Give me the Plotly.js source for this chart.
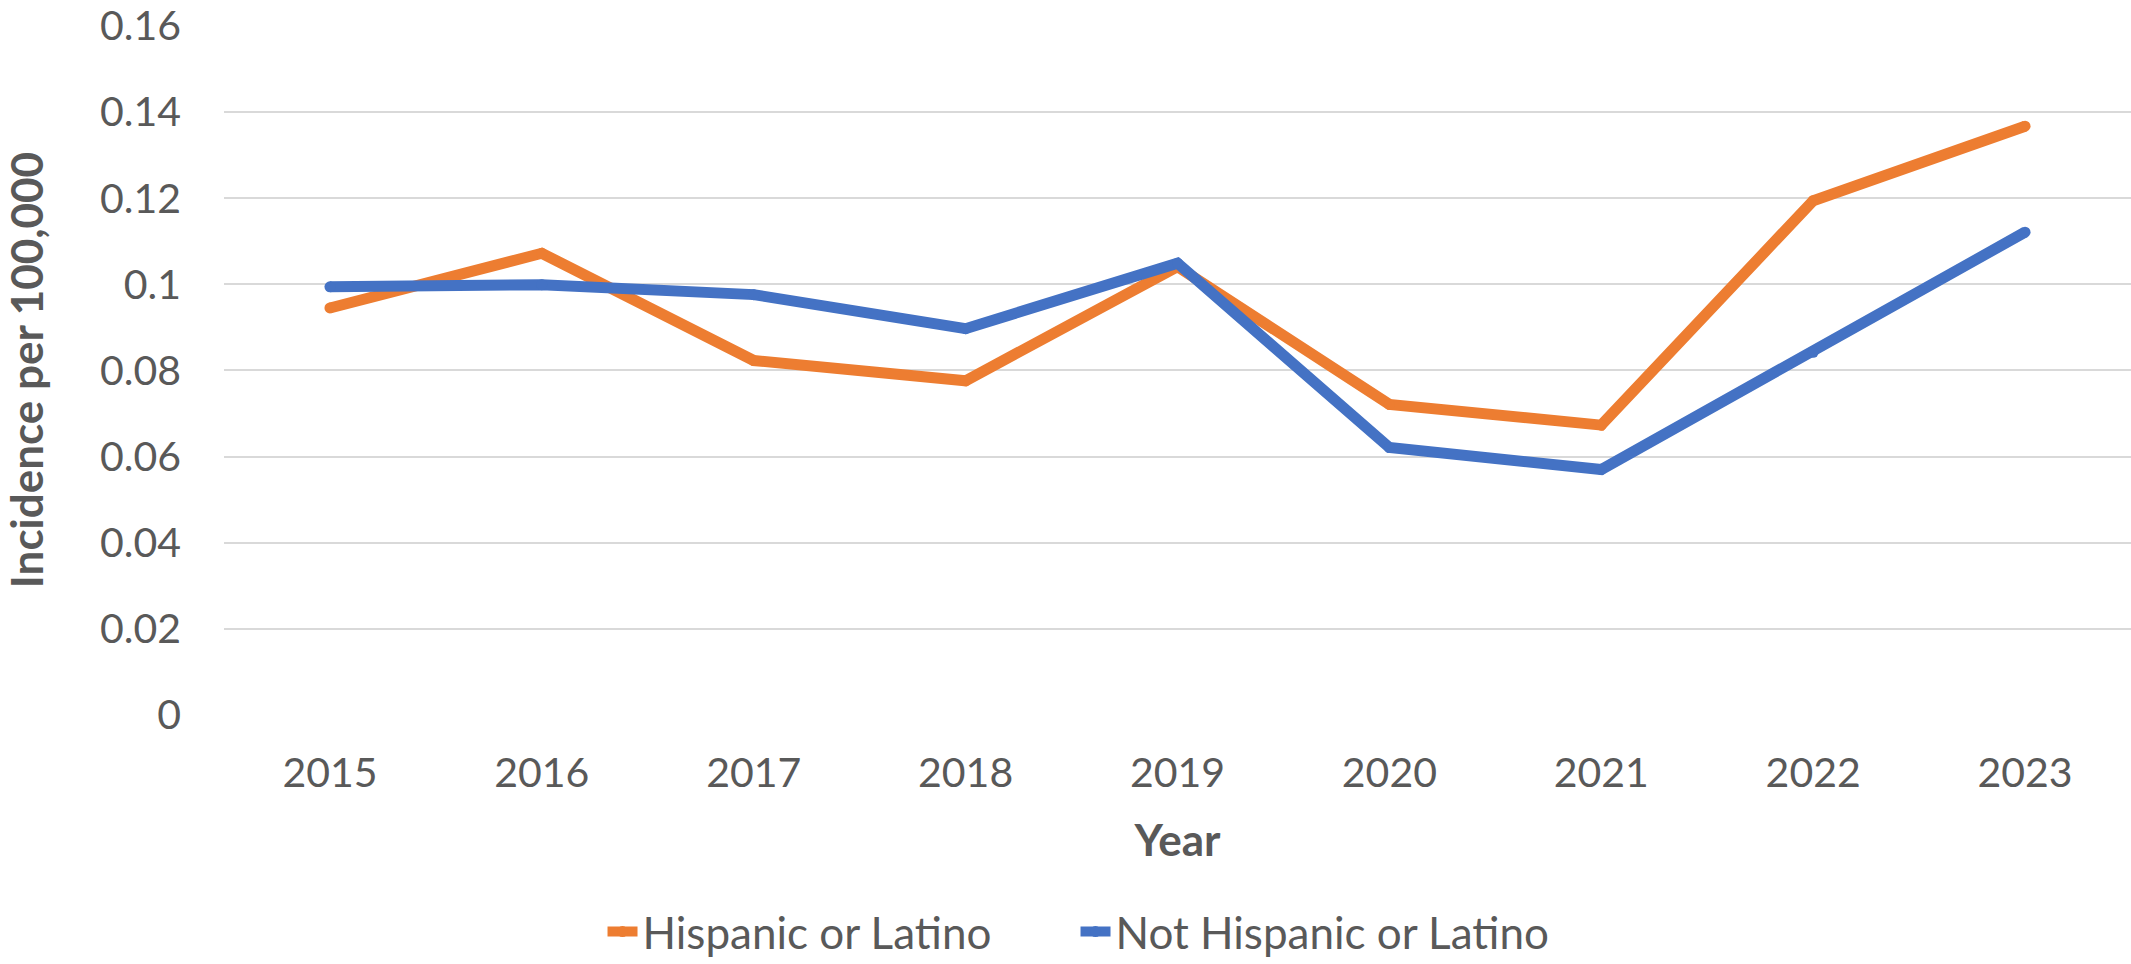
<!DOCTYPE html>
<html>
<head>
<meta charset="utf-8">
<script src="https://cdn.plot.ly/plotly-3.0.1.min.js"></script>
<style>html,body{margin:0;padding:0;background:#fff;}#chart{width:2131px;height:964px;}</style>
</head>
<body>
<div id="chart"></div>
<script>
const years = ["2015","2016","2017","2018","2019","2020","2021","2022","2023"];
const hispanic = [0.0945, 0.1072, 0.0823, 0.0776, 0.1041, 0.0721, 0.0673, 0.1194, 0.1367];
const notHispanic = [0.0994, 0.0999, 0.0976, 0.0897, 0.1049, 0.0621, 0.0570, 0.0842, 0.1121];
const yTickVals = [0, 0.02, 0.04, 0.06, 0.08, 0.1, 0.12, 0.14, 0.16];
const yTickText = ["0", "0.02", "0.04", "0.06", "0.08", "0.1", "0.12", "0.14", "0.16"];

const FONT = "Lato, 'Open Sans', sans-serif";
const GREY = "#595959";
const LW = 11;

const traces = [
  {x: years, y: hispanic, name: "Hispanic or Latino", type: "scatter", mode: "lines+markers",
   line: {color: "#ED7D31", width: LW}, marker: {color: "#ED7D31", size: LW}},
  {x: years, y: notHispanic, name: "Not Hispanic or Latino", type: "scatter", mode: "lines+markers",
   line: {color: "#4472C4", width: LW}, marker: {color: "#4472C4", size: LW}}
];

const layout = {
  width: 2131, height: 964,
  margin: {l: 224, r: 0, t: 25, b: 249},
  paper_bgcolor: "#ffffff", plot_bgcolor: "#ffffff",
  font: {family: FONT, color: GREY, size: 41},
  showlegend: true,
  legend: {orientation: "h", xref: "container", yref: "container", x: 0.5047, xanchor: "center",
           y: 1 - 932/964, yanchor: "middle", font: {size: 44, color: GREY}, itemwidth: 30,
           entrywidth: 428, entrywidthmode: "pixels", tracegroupgap: 0},
  xaxis: {type: "category", range: [-0.5, 8.5], showgrid: false, zeroline: false,
          showline: false, ticks: "", ticklabelstandoff: 30,
          tickfont: {size: 41, color: GREY},
          title: {text: "<b>Year</b>", font: {size: 44, color: GREY}, standoff: 30}},
  yaxis: {range: [0, 0.1602], tickvals: yTickVals, ticktext: yTickText,
          showgrid: true, gridcolor: "#d9d9d9", gridwidth: 2, zeroline: false, showline: false,
          ticks: "", ticklabelstandoff: 42, tickfont: {size: 41, color: GREY},
          title: {text: "<b>Incidence per 100,000</b>", font: {size: 44, color: GREY}, standoff: 43}},
  hovermode: false
};

Plotly.newPlot("chart", traces, layout, {staticPlot: true, displayModeBar: false});
</script>
</body>
</html>
